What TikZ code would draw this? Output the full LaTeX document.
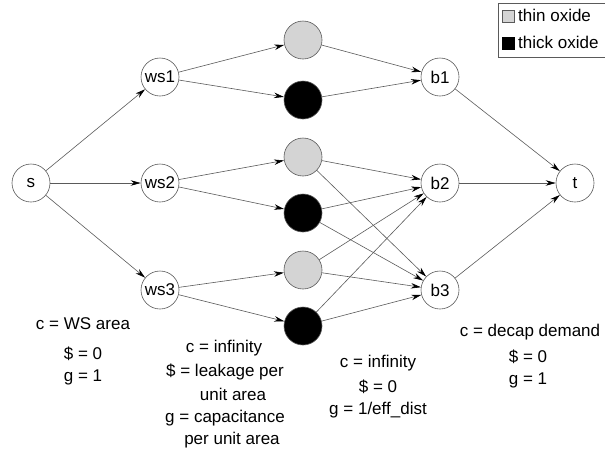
\documentclass[tikz,border=0pt]{standalone}
\usepackage{fontspec}
\setmainfont{Liberation Sans}
\usetikzlibrary{arrows.meta}
\definecolor{oxthin}{RGB}{212,212,212}
\definecolor{edgegray}{RGB}{90,90,90}
\begin{document}
\begin{tikzpicture}[x=1pt,y=-1pt,
  every node/.style={font=\fontsize{17}{20}\selectfont},
  vert/.style={circle,draw=edgegray,line width=0.6pt,minimum size=38pt,inner sep=0pt},
  thinox/.style={vert,fill=oxthin},
  thickox/.style={vert,fill=black},
  edge/.style={draw=edgegray,line width=0.6pt,-{Stealth[length=10pt,width=5.5pt,black]}},
  lbl/.style={anchor=center,inner sep=0pt}]
\useasboundingbox (0,0) rectangle (605,451);

% legend
\draw[edgegray,line width=0.6pt] (498,3) rectangle (610,57);
\node[draw=edgegray,fill=oxthin,minimum size=12pt,inner sep=0pt] (lg1) at (508,16) {};
\node[draw=black,fill=black,minimum size=12pt,inner sep=0pt] (lg2) at (508,43) {};
\node[anchor=west,inner sep=0pt] (lt1) at (518,15) {thin oxide};
\node[anchor=west,inner sep=0pt] (lt2) at (518,42) {thick oxide};

% vertices
\node[vert] (s) at (31,183) {s};
\node[vert] (ws1) at (160,77) {ws1};
\node[vert] (ws2) at (160,183) {ws2};
\node[vert] (ws3) at (160,290) {ws3};
\node[thinox] (g1) at (303,40) {};
\node[thickox] (k1) at (303,100) {};
\node[thinox] (g2) at (303,157) {};
\node[thickox] (k2) at (303,213) {};
\node[thinox] (g3) at (303,270) {};
\node[thickox] (k3) at (303,326) {};
\node[vert] (b1) at (440,77) {b1};
\node[vert] (b2) at (440,183) {b2};
\node[vert] (b3) at (440,290) {b3};
\node[vert] (t) at (575,183) {t};

% connectors
\foreach \a/\b in {s/ws1,s/ws2,s/ws3,
  ws1/g1,ws1/k1,ws2/g2,ws2/k2,ws3/g3,ws3/k3,
  g1/b1,k1/b1,g2/b2,g2/b3,k2/b2,k2/b3,g3/b2,g3/b3,k3/b2,k3/b3,
  b1/t,b2/t,b3/t}
  \path[edge] (\a) -- (\b);

% capacity / cost / gain labels
\node[lbl] (l1a) at (83,324) {c = WS area};
\node[lbl] (l1b) at (83,354) {\$ = 0};
\node[lbl] (l1c) at (83,377) {g = 1};

\node[lbl] (l2a) at (224,348) {c = infinity};
\node[lbl] (l2b) at (225,372) {\$ = leakage per};
\node[lbl] (l2c) at (233,394) {unit area};
\node[lbl] (l2d) at (225,418) {g = capacitance};
\node[lbl] (l2e) at (232,440) {per unit area};

\node[lbl] (l3a) at (378,363) {c = infinity};
\node[lbl] (l3b) at (378,387) {\$ = 0};
\node[lbl] (l3c) at (378,410) {g = 1/eff\_dist};

\node[lbl] (l4a) at (530,332) {c = decap demand};
\node[lbl] (l4b) at (528,357) {\$ = 0};
\node[lbl] (l4c) at (528,380) {g = 1};
\end{tikzpicture}
\end{document}
